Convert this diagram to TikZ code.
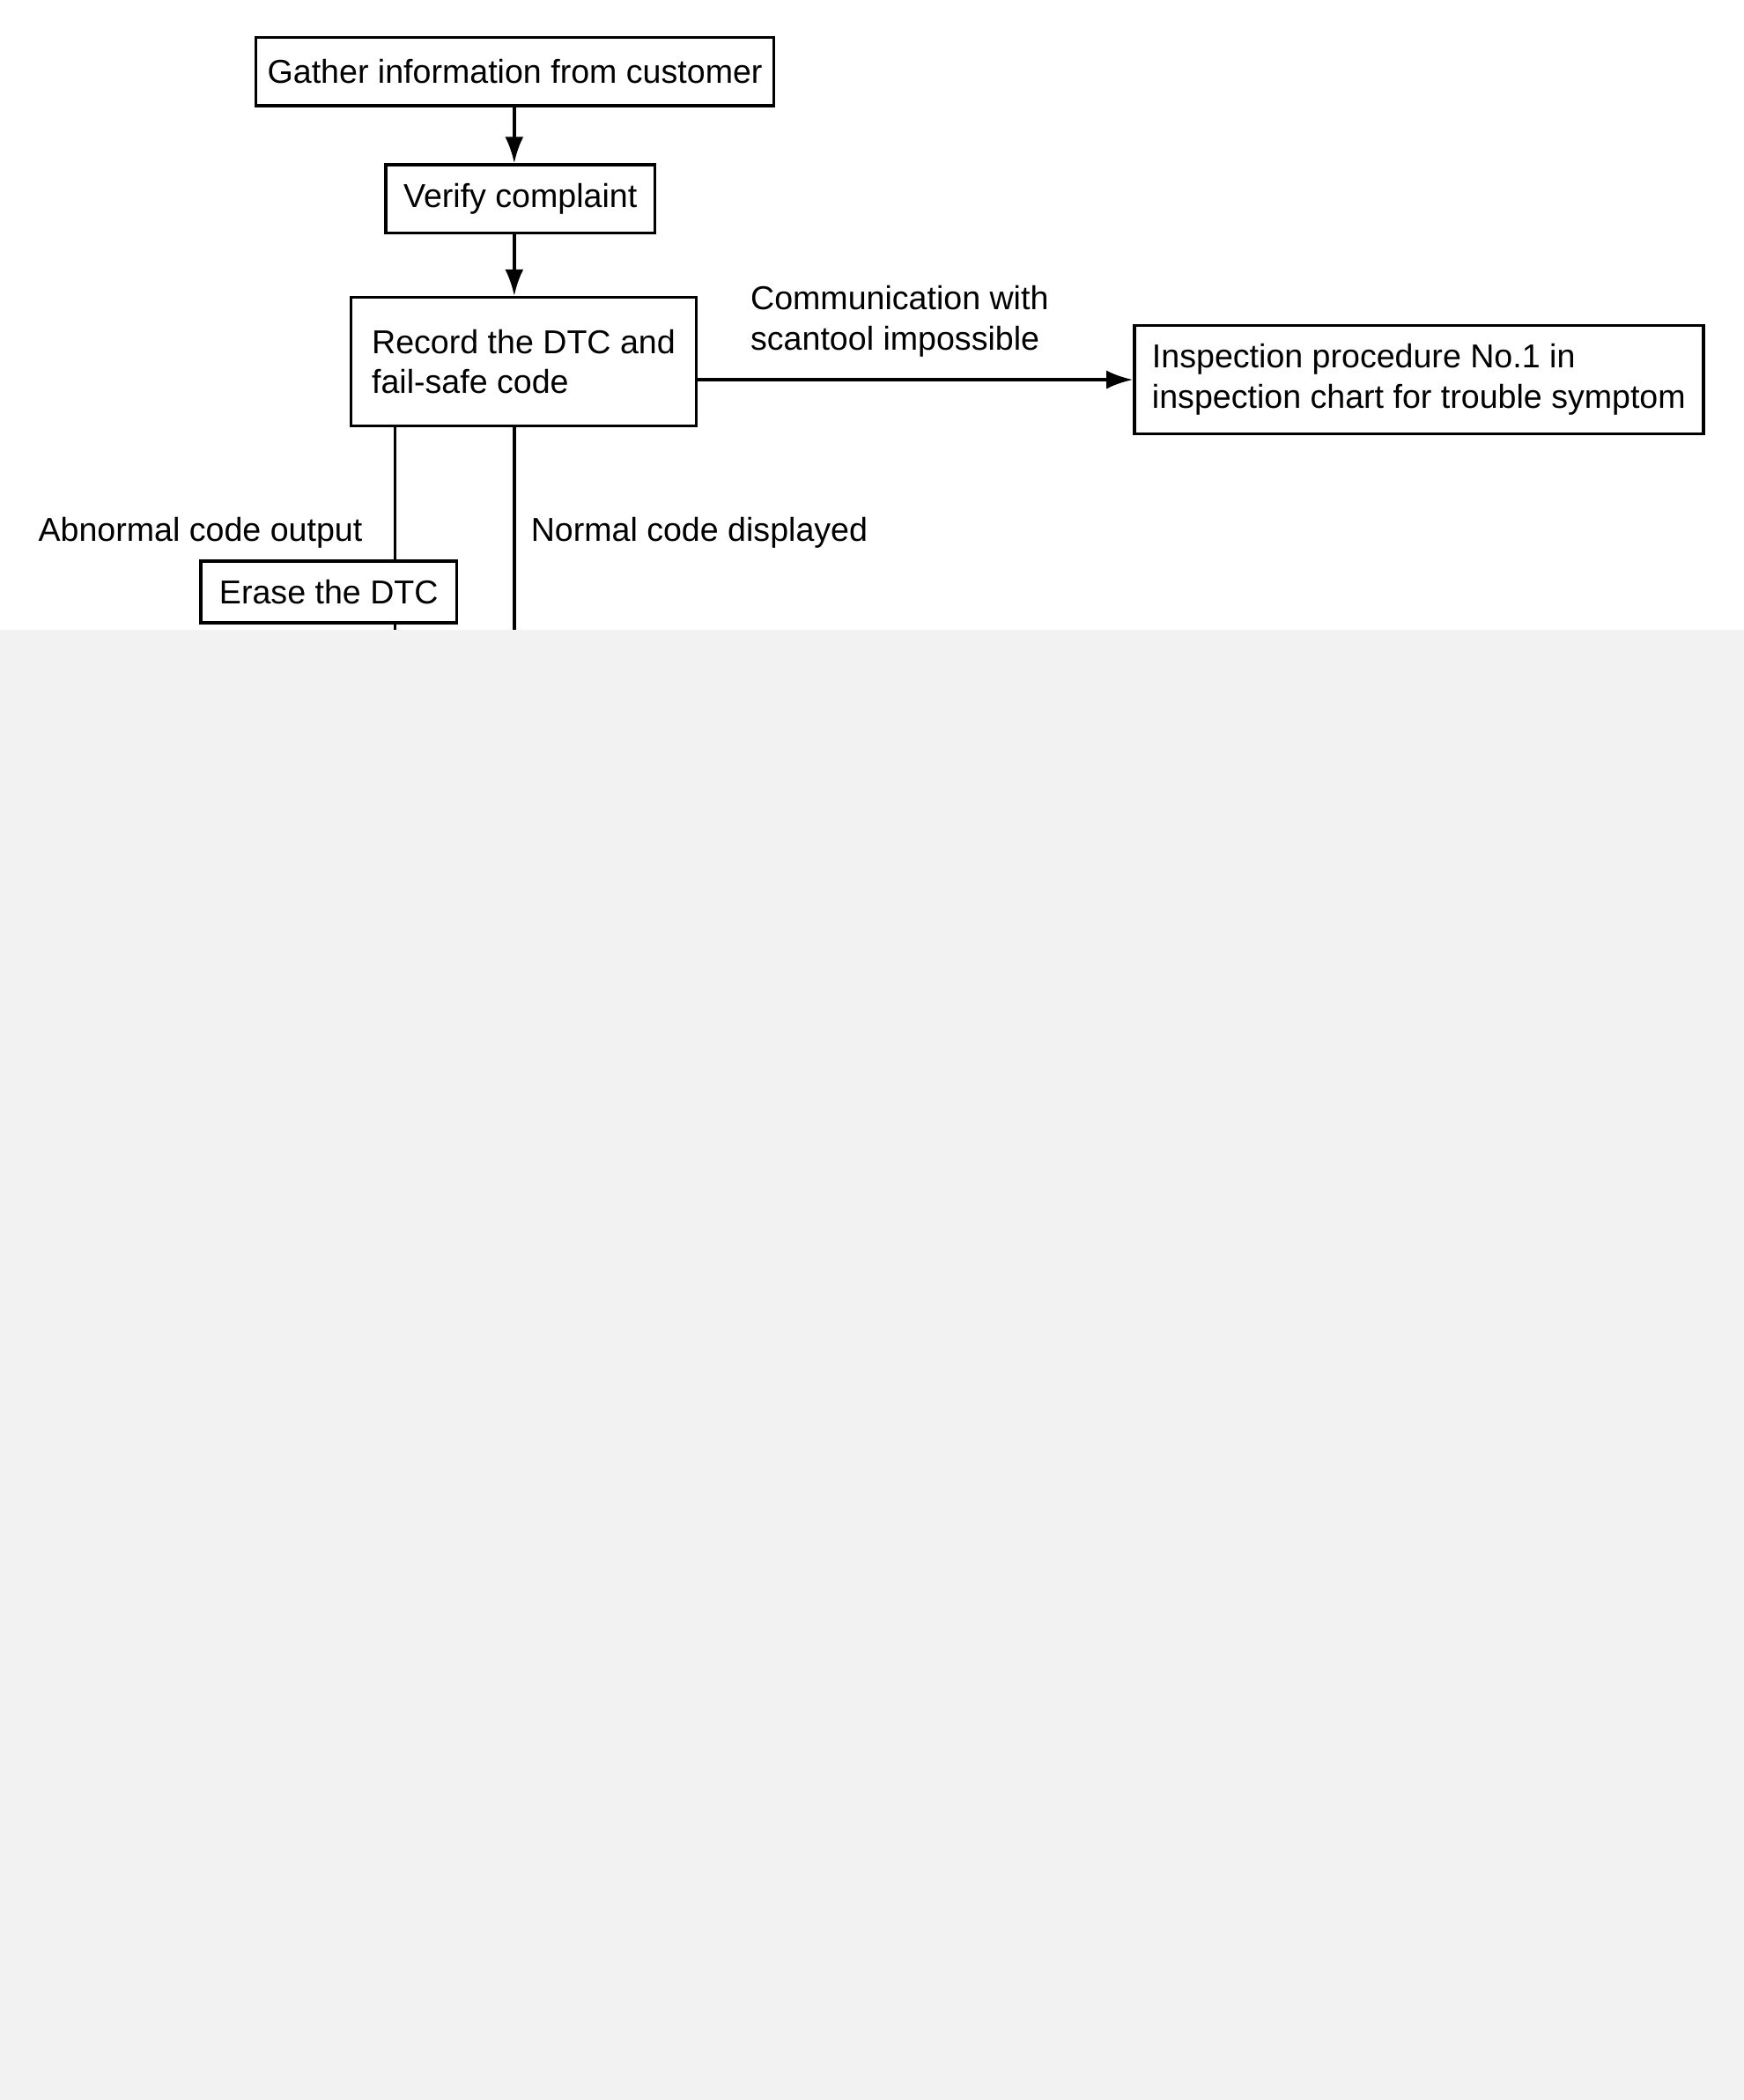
\documentclass[tikz,border=0pt]{standalone}
\usepackage{fontspec}
\setmainfont{Liberation Sans}
\usetikzlibrary{arrows.meta,calc}
\tikzset{ma/.style={-{Latex[length=3mm,width=2.1mm]}, line width=1pt}}

\begin{document}
\begin{tikzpicture}[x=0.015207cm, y=-0.015207cm]
\tikzset{
  base/.style={draw, line width=1pt, align=center, inner sep=0pt, font=\fontsize{10.7}{13}\selectfont},
  pb/.style={base, rectangle},
  lbl/.style={align=left, inner sep=0pt, font=\fontsize{10.7}{13}\selectfont},
}

\fill[white] (0,0) rectangle (1302,1568);
\fill[black!5] (0,470) rectangle (1302,1568);
\useasboundingbox (0,0) rectangle (1302,1568);

\node[pb, minimum width=5.885cm, minimum height=0.776cm] (gather) at (384.5,53.5) {Gather information from customer};
\node[pb, minimum width=3.057cm, minimum height=0.776cm] (verify) at (388.5,148.5) {Verify complaint};
\node[pb, minimum width=3.923cm, minimum height=1.460cm, align=left] (record) at (391,270) {Record the DTC and\\fail-safe code};
\node[pb, minimum width=6.463cm, minimum height=1.232cm, align=left] (insp) at (1059.5,283.5) {Inspection procedure No.1 in\\inspection chart for trouble symptom};
\node[pb, minimum width=2.905cm, minimum height=0.700cm] (erase) at (245.5,442) {Erase the DTC};

\coordinate (trunk) at (384,470);
\coordinate (abn) at (295,470);

\draw[ma] (gather.south -| trunk) -- (verify.north -| trunk);
\draw[ma] (verify.south -| trunk) -- (record.north -| trunk);
\draw[ma] (record.east |- insp.west) -- (insp.west);
\draw[line width=1pt] (record.south -| abn) -- (erase.north -| abn);
\draw[line width=1pt] (erase.south -| abn) -- (abn);
\draw[line width=1pt] (record.south -| trunk) -- (trunk);

\node[lbl, anchor=west] (comm) at (560,240) {Communication with\\scantool impossible};
\node[lbl, anchor=east] (abnl) at (271,398) {Abnormal code output};
\node[lbl, anchor=west] (norml) at (396,398) {Normal code displayed};
\end{tikzpicture}
\end{document}
